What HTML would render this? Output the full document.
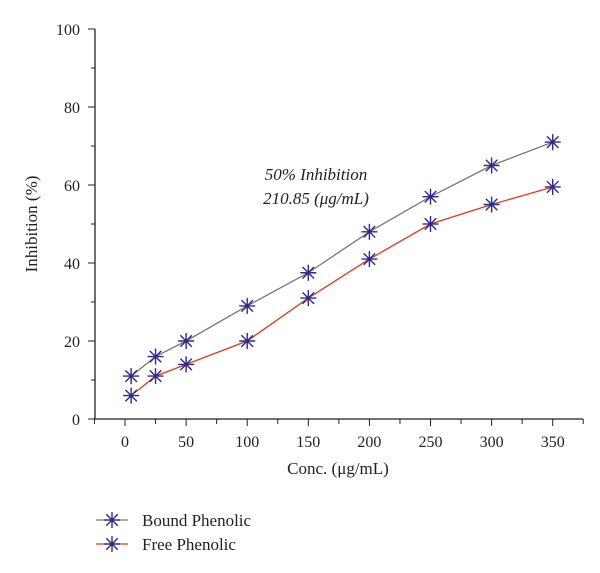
<!DOCTYPE html>
<html><head><meta charset="utf-8"><style>
body{margin:0;background:#fff}
svg{display:block;font-family:"Liberation Serif",serif}
</style></head><body>
<svg width="600" height="573">
<g id="axes"></g><g id="plot"></g>
<text x="316" y="180" font-size="17" font-style="italic" text-anchor="middle" fill="#222">50% Inhibition</text>
<text x="316" y="204" font-size="17" font-style="italic" text-anchor="middle" fill="#222">210.85 (μg/mL)</text>
<text x="338" y="474" font-size="17" text-anchor="middle" fill="#222">Conc. (μg/mL)</text>
<text transform="translate(37,224) rotate(-90)" font-size="17" text-anchor="middle" fill="#222">Inhibition (%)</text>
<g id="legend"></g>
</svg>
<script>
const xValues=[5,25,50,100,150,200,250,300,350];
const boundValues=[11,16,20,29,37.5,48,57,65,71];
const freeValues=[6,11,14,20,31,41,50,55,59.5];
const xTicks=[0,50,100,150,200,250,300,350];
const yTicks=[0,20,40,60,80,100];
const seriesNames=["Bound Phenolic","Free Phenolic"];
const NS="http://www.w3.org/2000/svg";
const X=v=>125+v*1.222, Y=v=>419-v*3.9;
function mk(p,t,a){const e=document.createElementNS(NS,t);for(const k in a)e.setAttribute(k,a[k]);p.appendChild(e);return e;}
const ax=document.getElementById('axes'),pl=document.getElementById('plot'),lg=document.getElementById('legend');
let l=mk(ax,'line',{x1:95,y1:29,x2:95,y2:419,stroke:'#222','stroke-width':1.3});

l=mk(ax,'line',{x1:95,y1:419,x2:583,y2:419,stroke:'#222','stroke-width':1.3});

for(let v=-25;v<=375;v+=25){mk(ax,'line',{x1:X(v),y1:419,x2:X(v),y2:v%50==0?426:424,stroke:'#222','stroke-width':1});}
for(let v=0;v<=100;v+=10){const maj=v%20==0;mk(ax,'line',{x1:maj?88:91,y1:Y(v),x2:95,y2:Y(v),stroke:'#222','stroke-width':1});}
xTicks.forEach(v=>{const t=mk(ax,'text',{x:X(v),y:447,'font-size':16,'text-anchor':'middle',fill:'#222'});t.textContent=v;
});
yTicks.forEach(v=>{const t=mk(ax,'text',{x:80,y:Y(v)+6,'font-size':16,'text-anchor':'end',fill:'#222'});t.textContent=v;
});
function star(p,x,y){const g=mk(p,'g',{stroke:'#2e2a8c','stroke-width':1.4});const r=8;
mk(g,'line',{x1:x-r,y1:y,x2:x+r,y2:y});mk(g,'line',{x1:x,y1:y-r,x2:x,y2:y+r});
const d=r*0.72;mk(g,'line',{x1:x-d,y1:y-d,x2:x+d,y2:y+d});mk(g,'line',{x1:x-d,y1:y+d,x2:x+d,y2:y-d});
mk(g,'circle',{cx:x,cy:y,r:2,fill:'#2e2a8c',stroke:'none'});
}
[[boundValues,'#777','bound-line'],[freeValues,'#e03a1e','free-line']].forEach(([vals,c,n])=>{
const pth=mk(pl,'polyline',{points:xValues.map((x,i)=>X(x)+','+Y(vals[i])).join(' '),fill:'none',stroke:c,'stroke-width':1.3});
});
[boundValues,freeValues].forEach(vals=>xValues.forEach((x,i)=>star(pl,X(x),Y(vals[i]))));
[['#777',520],['#e03a1e',544]].forEach(([c,y],i)=>{
const g=mk(lg,'g',{});
mk(g,'line',{x1:96,y1:y,x2:128,y2:y,stroke:c,'stroke-width':1.3});star(g,112,y);
const t=mk(g,'text',{x:142,y:y+6,'font-size':17,fill:'#222'});t.textContent=seriesNames[i];});
</script>
</body></html>
